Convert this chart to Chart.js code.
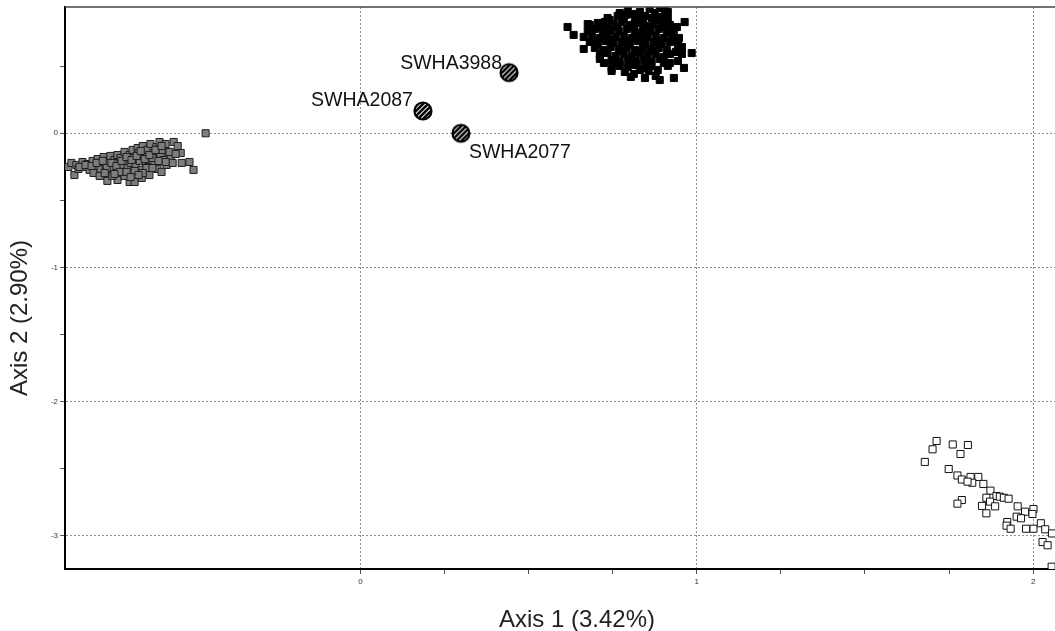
<!DOCTYPE html>
<html>
<head>
<meta charset="utf-8">
<script src="https://cdn.jsdelivr.net/npm/chart.js@4"></script>
<style>
  html, body { margin: 0; padding: 0; background: #fff; overflow: hidden; }
  #wrap { width: 1055px; height: 631px; }
</style>
</head>
<body>
<div id="wrap"><canvas id="pcoa" width="1055" height="631"></canvas></div>
<script>
// PCoA scores, [axis1, axis2]
const blackPts = [
  [0.831,0.904],[0.860,0.926],[0.890,0.934],[0.810,0.889],[0.875,0.896],[0.846,0.874],
  [0.741,0.844],[0.765,0.874],[0.789,0.882],[0.816,0.859],[0.840,0.844],[0.866,0.859],[0.896,0.867],[0.914,0.852],[0.727,0.829],
  [0.682,0.807],[0.706,0.822],[0.730,0.800],[0.753,0.814],[0.777,0.829],[0.801,0.807],[0.825,0.822],[0.848,0.800],[0.872,0.814],[0.896,0.822],[0.920,0.807],[0.941,0.792],[0.964,0.829],
  [0.676,0.762],[0.697,0.777],[0.721,0.755],[0.744,0.770],[0.768,0.762],[0.792,0.777],[0.816,0.755],[0.840,0.770],[0.863,0.762],[0.887,0.777],[0.911,0.755],[0.932,0.770],
  [0.634,0.733],[0.664,0.718],[0.688,0.725],[0.712,0.710],[0.735,0.733],[0.759,0.718],[0.783,0.725],[0.807,0.710],[0.831,0.733],[0.854,0.718],[0.878,0.725],[0.902,0.710],[0.926,0.725],[0.947,0.710],
  [0.682,0.680],[0.706,0.665],[0.730,0.688],[0.753,0.673],[0.777,0.680],[0.801,0.665],[0.825,0.688],[0.848,0.673],[0.872,0.680],[0.896,0.665],[0.920,0.680],[0.944,0.658],
  [0.664,0.628],[0.697,0.636],[0.721,0.621],[0.744,0.643],[0.768,0.628],[0.792,0.636],[0.816,0.621],[0.840,0.643],[0.863,0.628],[0.887,0.636],[0.911,0.621],[0.938,0.606],[0.956,0.643],
  [0.712,0.583],[0.735,0.598],[0.759,0.576],[0.783,0.591],[0.807,0.576],[0.831,0.598],[0.854,0.583],[0.878,0.591],[0.902,0.569],[0.956,0.591],[0.985,0.598],
  [0.712,0.554],[0.724,0.524],[0.747,0.546],[0.771,0.531],[0.795,0.554],[0.819,0.539],[0.843,0.546],[0.866,0.531],[0.890,0.554],[0.920,0.524],[0.944,0.539],
  [0.747,0.487],[0.771,0.502],[0.795,0.494],[0.819,0.509],[0.843,0.487],[0.863,0.502],[0.884,0.472],[0.914,0.502],[0.962,0.487],
  [0.747,0.464],[0.786,0.457],[0.813,0.442],[0.831,0.472],[0.857,0.464],[0.878,0.427],[0.890,0.397],[0.932,0.412],[0.846,0.412],[0.804,0.420],
  [0.616,0.792],[0.676,0.814],
  [0.771,0.896],[0.914,0.904],[0.795,0.919],[0.905,0.919],
  [0.718,0.792],[0.765,0.792],[0.813,0.792],[0.860,0.792],[0.908,0.792],
  [0.700,0.695],[0.747,0.695],[0.795,0.695],[0.843,0.695],[0.890,0.695],[0.935,0.688],
  [0.730,0.606],[0.777,0.613],[0.825,0.606],[0.872,0.613],[0.920,0.591],
  [0.759,0.524],[0.807,0.516],[0.854,0.516],[0.902,0.524],
  [0.735,0.859],[0.783,0.852],[0.831,0.859],[0.878,0.844]
];
const grayPts = [
  [-0.868,-0.251],[-0.859,-0.221],[-0.850,-0.311],[-0.844,-0.236],[-0.838,-0.266],[-0.826,-0.214],[-0.820,-0.251],[-0.811,-0.229],
  [-0.805,-0.273],[-0.796,-0.206],[-0.793,-0.296],[-0.787,-0.244],[-0.781,-0.192],[-0.775,-0.221],[-0.772,-0.266],[-0.763,-0.177],
  [-0.757,-0.236],[-0.752,-0.206],[-0.749,-0.281],[-0.743,-0.169],[-0.737,-0.251],[-0.731,-0.199],[-0.728,-0.221],[-0.722,-0.162],
  [-0.719,-0.273],[-0.713,-0.184],[-0.707,-0.236],[-0.701,-0.139],[-0.698,-0.206],[-0.692,-0.259],[-0.686,-0.162],[-0.683,-0.221],
  [-0.677,-0.124],[-0.674,-0.184],[-0.668,-0.244],[-0.662,-0.110],[-0.659,-0.147],[-0.656,-0.206],[-0.650,-0.273],[-0.647,-0.095],
  [-0.644,-0.169],[-0.638,-0.221],[-0.633,-0.124],[-0.630,-0.251],[-0.624,-0.080],[-0.621,-0.184],[-0.615,-0.147],[-0.612,-0.221],
  [-0.606,-0.102],[-0.603,-0.266],[-0.597,-0.065],[-0.594,-0.162],[-0.588,-0.124],[-0.585,-0.199],[-0.579,-0.080],[-0.576,-0.236],
  [-0.570,-0.139],[-0.564,-0.184],
  [-0.555,-0.065],[-0.543,-0.095],[-0.567,-0.139],[-0.534,-0.147],[-0.549,-0.154],[-0.508,-0.214],[-0.496,-0.273],[-0.531,-0.221],
  [-0.558,-0.221],[-0.579,-0.214],[-0.591,-0.288],[-0.618,-0.184],
  [-0.752,-0.355],[-0.722,-0.348],[-0.686,-0.363],[-0.671,-0.363],[-0.650,-0.333],[-0.701,-0.318],[-0.627,-0.311],[-0.737,-0.318],[-0.775,-0.318],
  [-0.460,0.000],
  [-0.835,-0.251],[-0.817,-0.236],[-0.799,-0.244],[-0.784,-0.221],[-0.766,-0.206],[-0.754,-0.259],[-0.740,-0.221],[-0.725,-0.244],
  [-0.710,-0.206],[-0.695,-0.177],[-0.680,-0.199],[-0.665,-0.169],[-0.653,-0.132],[-0.641,-0.192],[-0.627,-0.162],[-0.609,-0.124],
  [-0.600,-0.206],[-0.591,-0.095],[-0.636,-0.259],[-0.618,-0.259],[-0.716,-0.288],[-0.695,-0.288],[-0.671,-0.281],[-0.647,-0.296],
  [-0.731,-0.303],[-0.760,-0.296],[-0.683,-0.326],[-0.659,-0.311]
];
const whitePts = [
  [1.713,-2.293],[1.701,-2.355],[1.761,-2.319],[1.806,-2.323],[1.784,-2.390],[1.678,-2.449],[1.749,-2.502],[1.775,-2.550],
  [1.788,-2.580],[1.814,-2.561],[1.837,-2.561],[1.819,-2.604],[1.805,-2.596],[1.852,-2.613],[1.873,-2.663],[1.861,-2.716],
  [1.891,-2.703],[1.901,-2.708],[1.913,-2.716],[1.927,-2.723],[1.848,-2.777],[1.872,-2.745],[1.887,-2.780],[1.788,-2.733],
  [1.775,-2.760],[1.861,-2.832],[1.954,-2.780],[1.976,-2.820],[2.001,-2.800],[1.998,-2.837],[1.951,-2.857],[1.964,-2.869],
  [1.923,-2.897],[1.921,-2.924],[1.933,-2.947],[1.979,-2.947],[2.001,-2.947],[2.023,-2.906],[2.036,-2.951],[2.056,-2.982],
  [2.028,-3.046],[2.043,-3.070],[2.055,-3.230]
];
const hatchNames = ['SWHA3988', 'SWHA2087', 'SWHA2077'];
const hatchPts = [[0.442,0.452],[0.186,0.166],[0.299,0.000]];

const xTitle = 'Axis 1 (3.42%)';
const yTitle = 'Axis 2 (2.90%)';

const FONT = '"Liberation Sans", Arial, Helvetica, sans-serif';

function toXY(arr) { return arr.map(p => ({ x: p[0], y: p[1] })); }

// striped circle used as point style
function makeHatch() {
  const c = document.createElement('canvas');
  c.width = 22; c.height = 22;
  const g = c.getContext('2d');
  g.save();
  g.beginPath(); g.arc(11, 11, 8.5, 0, Math.PI * 2); g.closePath();
  g.fillStyle = '#fff'; g.fill();
  g.clip();
  g.strokeStyle = '#000'; g.lineWidth = 2.6;
  for (let k = -22; k <= 44; k += 5) {
    g.beginPath(); g.moveTo(k, 22); g.lineTo(k + 22, 0); g.stroke();
  }
  g.restore();
  g.beginPath(); g.arc(11, 11, 8.5, 0, Math.PI * 2);
  g.lineWidth = 2.2; g.strokeStyle = '#000'; g.stroke();
  return c;
}

const labelOffsets = [
  { dx: -7, dy: -4, align: 'right' },
  { dx: -10, dy: -5, align: 'right' },
  { dx: 8, dy: 25, align: 'left' }
];

const extras = {
  id: 'extras',
  afterDatasetsDraw(chart) {
    const { ctx, chartArea, scales } = chart;
    ctx.save();
    // top frame line
    ctx.strokeStyle = '#444';
    ctx.lineWidth = 1.5;
    ctx.beginPath();
    ctx.moveTo(chartArea.left, chartArea.top);
    ctx.lineTo(chartArea.right, chartArea.top);
    ctx.stroke();
    // point labels
    ctx.fillStyle = '#111';
    ctx.font = '19.5px ' + FONT;
    ctx.textBaseline = 'alphabetic';
    hatchPts.forEach((p, i) => {
      const px = scales.x.getPixelForValue(p[0]);
      const py = scales.y.getPixelForValue(p[1]);
      const o = labelOffsets[i];
      ctx.textAlign = o.align;
      ctx.fillText(hatchNames[i], px + o.dx, py + o.dy);
    });
    ctx.restore();
  },
  afterDraw(chart) {
    const { ctx } = chart;
    ctx.save();
    ctx.fillStyle = '#222';
    ctx.font = '24px ' + FONT;
    ctx.textAlign = 'center';
    ctx.textBaseline = 'alphabetic';
    ctx.fillText(xTitle, 577, 627);
    ctx.translate(27, 318);
    ctx.rotate(-Math.PI / 2);
    ctx.fillText(yTitle, 0, 0);
    ctx.restore();
  }
};

const isWhole = v => Math.abs(v - Math.round(v)) < 1e-6;

new Chart(document.getElementById('pcoa'), {
  type: 'scatter',
  data: {
    datasets: [
      {
        label: 'grey',
        data: toXY(grayPts),
        pointStyle: 'rect',
        pointRadius: 5,
        backgroundColor: '#7d7d7d',
        borderColor: '#1e1e1e',
        borderWidth: 1
      },
      {
        label: 'black',
        data: toXY(blackPts),
        pointStyle: 'rect',
        pointRadius: 5,
        backgroundColor: '#000',
        borderColor: '#000',
        borderWidth: 1
      },
      {
        label: 'white',
        data: toXY(whitePts),
        pointStyle: 'rect',
        pointRadius: 5,
        backgroundColor: '#fff',
        borderColor: '#111',
        borderWidth: 1
      },
      {
        label: 'hatched',
        data: toXY(hatchPts),
        pointStyle: makeHatch(),
        pointRadius: 11
      }
    ]
  },
  options: {
    responsive: false,
    animation: false,
    events: [],
    layout: { autoPadding: false, padding: { top: 7, right: 0, left: 0, bottom: 0 } },
    plugins: { legend: { display: false }, tooltip: { enabled: false } },
    scales: {
      x: {
        type: 'linear',
        min: -0.878,
        max: 2.065,
        afterFit: s => { s.height = 62; s.paddingLeft = 0; s.paddingRight = 0; },
        border: { display: true, color: '#000', width: 2, dash: [2, 2] },
        grid: {
          color: c => (c.tick && isWhole(c.tick.value)) ? '#8f8f8f' : 'rgba(0,0,0,0)',
          lineWidth: 1,
          tickLength: 5,
          tickColor: c => (c.tick && (c.tick.value >= 0 || isWhole(c.tick.value))) ? '#555' : 'rgba(0,0,0,0)',
          tickWidth: 1
        },
        ticks: {
          stepSize: 0.25,
          includeBounds: false,
          autoSkip: false,
          maxRotation: 0,
          padding: 3,
          color: '#333',
          font: { size: 8, family: FONT },
          callback: v => isWhole(v) ? String(Math.round(v)) : ''
        }
      },
      y: {
        type: 'linear',
        min: -3.247,
        max: 0.941,
        afterFit: s => { s.width = 65; s.paddingTop = 0; s.paddingBottom = 0; },
        border: { display: true, color: '#000', width: 2, dash: [2, 2] },
        grid: {
          color: c => (c.tick && isWhole(c.tick.value)) ? '#8f8f8f' : 'rgba(0,0,0,0)',
          lineWidth: 1,
          tickLength: 5,
          tickColor: '#555',
          tickWidth: 1
        },
        ticks: {
          stepSize: 0.5,
          includeBounds: false,
          autoSkip: false,
          padding: 2,
          color: '#333',
          font: { size: 8, family: FONT },
          callback: v => isWhole(v) ? String(Math.round(v)) : ''
        }
      }
    }
  },
  plugins: [extras]
});
</script>
</body>
</html>
